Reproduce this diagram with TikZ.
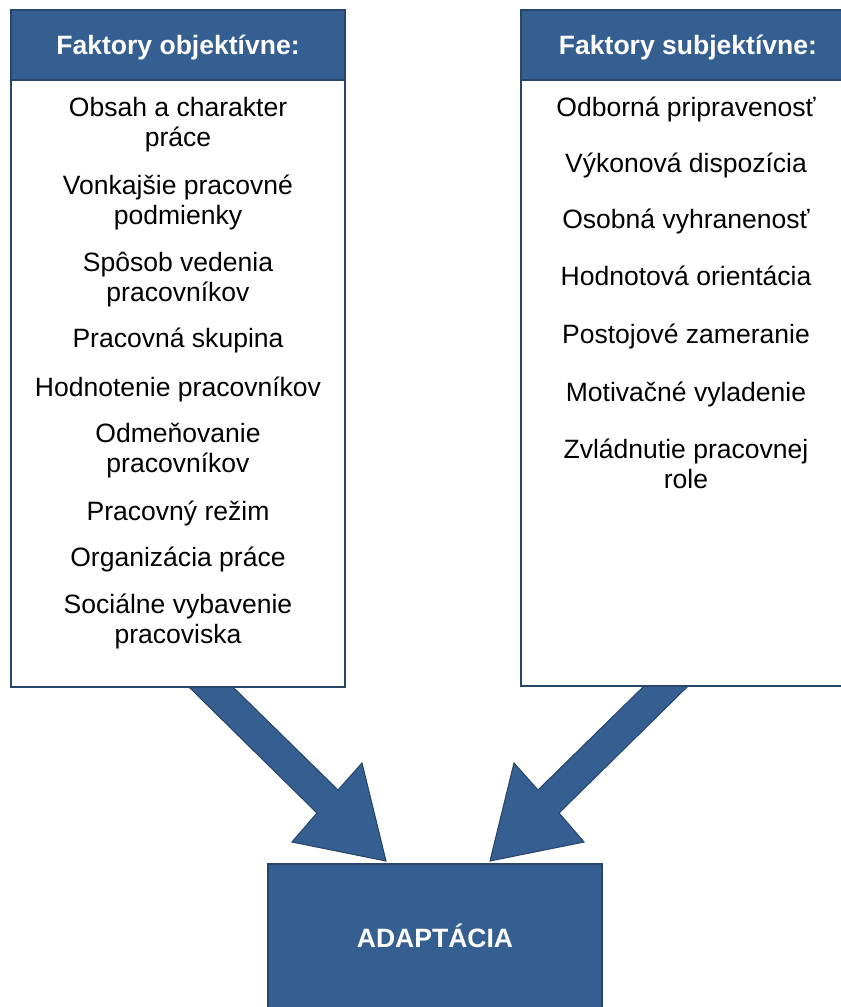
\documentclass[tikz,border=0pt]{standalone}
\usepackage{fontspec}
\setmainfont{Liberation Sans}
\usetikzlibrary{fit,backgrounds}
\definecolor{boxblue}{RGB}{54,95,145}
\definecolor{edgeblue}{RGB}{40,70,108}
\tikzset{
  panel/.style={draw=edgeblue, line width=1.2pt, fill=white, inner sep=0pt},
  headband/.style={draw=edgeblue, line width=1.2pt, fill=boxblue, inner sep=0pt},
  headtext/.style={text=white, font=\fontsize{19.9}{22.2}\selectfont\bfseries, anchor=base, inner sep=0pt},
  item/.style={align=center, font=\fontsize{19.9}{22.2}\selectfont, anchor=base, inner sep=0pt},
  blockarrow/.style={fill=boxblue, draw=edgeblue, line width=0.8pt, line join=miter},
}
\begin{document}
\begin{tikzpicture}[x=0.75pt, y=-0.75pt]
\useasboundingbox (0,0) rectangle (841,1007);

% corner points of the panels
\coordinate (oTL) at (11,10);
\coordinate (oHB) at (345,80);
\coordinate (oBR) at (345,687);
\coordinate (sTL) at (521,10);
\coordinate (sHB) at (851,80);
\coordinate (sBR) at (851,686);
\coordinate (aTL) at (268,864);
\coordinate (aBR) at (602,1015);

% left panel: objective factors (item positions are last-line baselines)
\node[panel, fit=(oTL)(oBR)] (objpanel) {};
\node[headband, fit=(oTL)(oHB)] (objhead) {};
\node[headtext] (objtitle) at (178,54) {Faktory objektívne:};
\node[item] (o1) at (178,146) {Obsah a charakter\\práce};
\node[item] (o2) at (178,224) {Vonkajšie pracovné\\podmienky};
\node[item] (o3) at (178,301) {Spôsob vedenia\\pracovníkov};
\node[item] (o4) at (178,347) {Pracovná skupina};
\node[item] (o5) at (178,396) {Hodnotenie pracovníkov};
\node[item] (o6) at (178,472) {Odmeňovanie\\pracovníkov};
\node[item] (o7) at (178,520) {Pracovný režim};
\node[item] (o8) at (178,566) {Organizácia práce};
\node[item] (o9) at (178,643) {Sociálne vybavenie\\pracoviska};

% right panel: subjective factors
\node[panel, fit=(sTL)(sBR)] (subpanel) {};
\node[headband, fit=(sTL)(sHB)] (subhead) {};
\node[headtext] (subtitle) at (688,54) {Faktory subjektívne:};
\node[item] (s1) at (686,116) {Odborná pripravenosť};
\node[item] (s2) at (686,172) {Výkonová dispozícia};
\node[item] (s3) at (686,228) {Osobná vyhranenosť};
\node[item] (s4) at (686,285) {Hodnotová orientácia};
\node[item] (s5) at (686,343) {Postojové zameranie};
\node[item] (s6) at (686,401) {Motivačné vyladenie};
\node[item] (s7) at (686,488) {Zvládnutie pracovnej\\role};

% result box
\node[headband, fit=(aTL)(aBR)] (adapt) {};
\node[headtext] (adapttext) at (435,947) {ADAPTÁCIA};

% block arrows running from under the panels towards the result box
\begin{scope}[on background layer]
\draw[blockarrow] (171.7,670) -- (317,813) -- (292,842) -- (386,861)
  -- (362,763) -- (338,790) -- (215.6,670) -- cycle;
\draw[blockarrow] (704.3,670) -- (559,813) -- (584,842) -- (490,861)
  -- (514,763) -- (538,790) -- (660.4,670) -- cycle;
\end{scope}
\end{tikzpicture}
\end{document}
